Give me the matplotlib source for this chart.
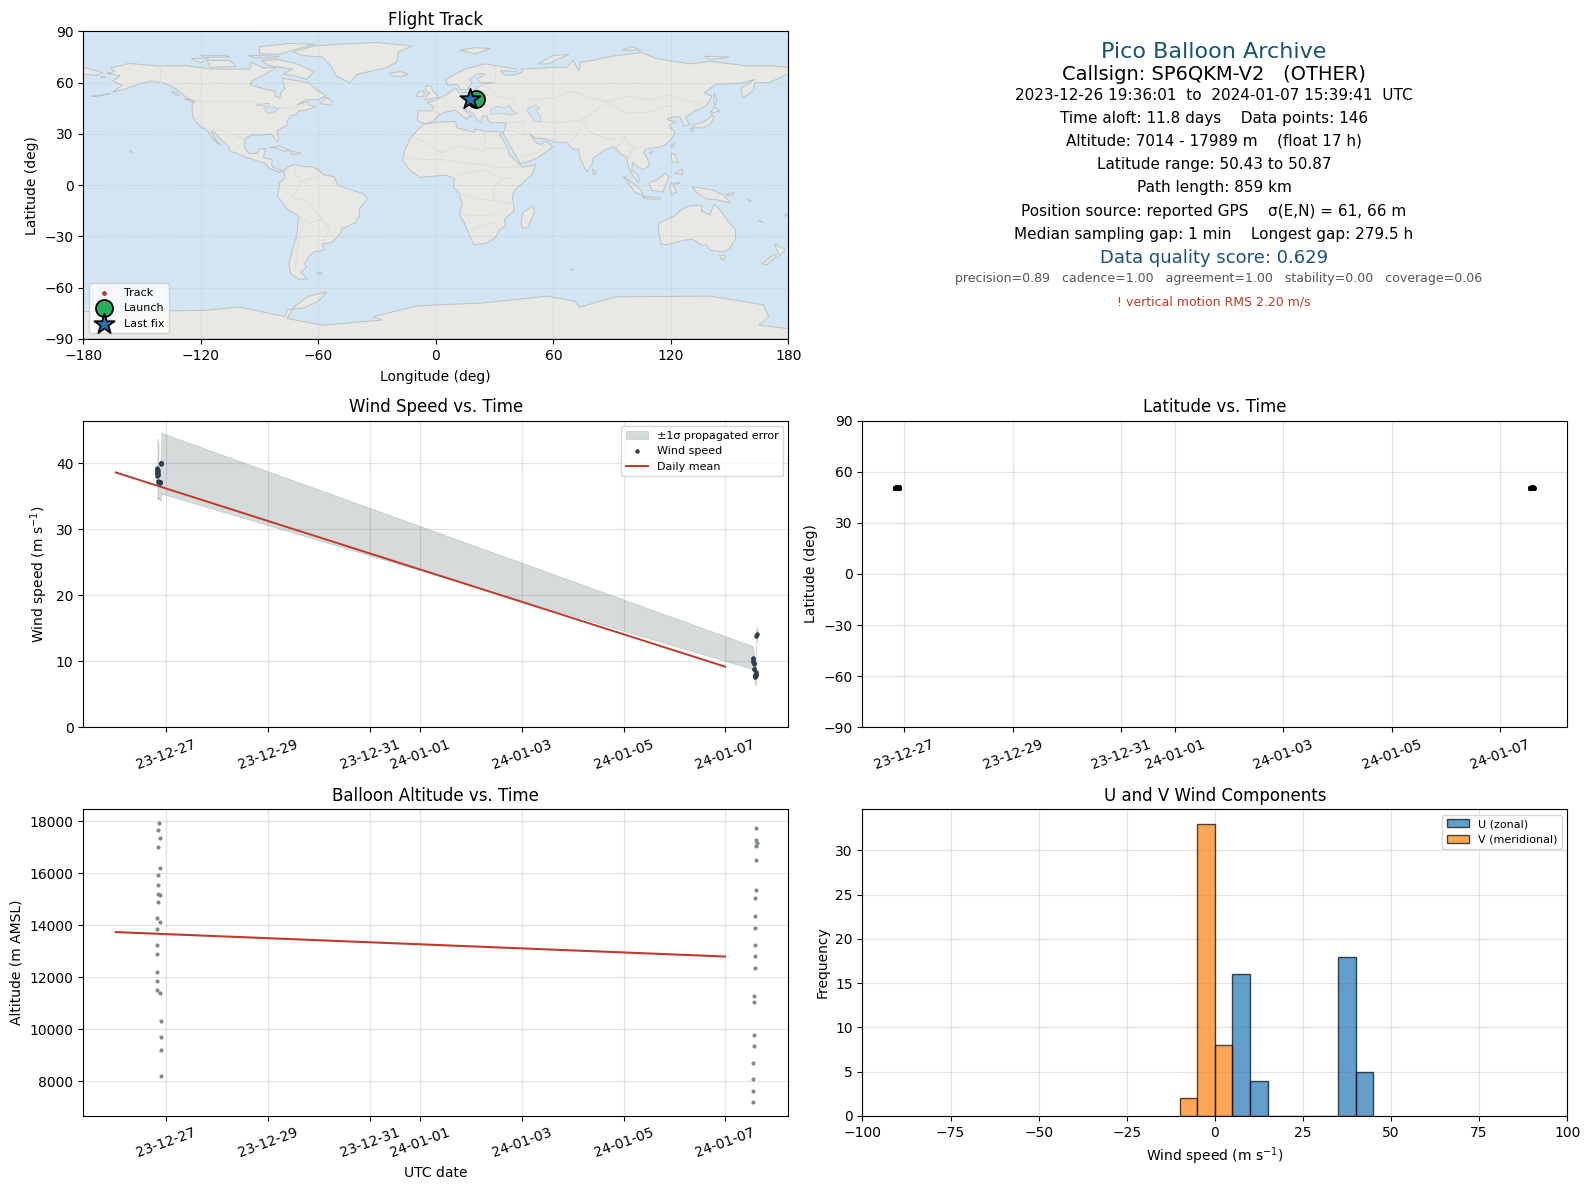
import numpy as np
import pandas as pd
import matplotlib
matplotlib.use("Agg")
import matplotlib.pyplot as plt
import matplotlib.dates as mdates

# ---- coastlines (lon, lat) ----
north_america = [(-168,65.5),(-164,66.5),(-166,68.5),(-156.5,71.3),(-141,69.7),(-128,70),(-115,68),(-108,68),(-95,68),(-94,72),(-88,68.5),(-81.5,69),(-87,65),(-94,61),(-94.5,58.7),(-88,56.5),(-82,55),(-82,52),(-79.5,51.3),(-79,54.5),(-77,56.5),(-78,60),(-78,62.5),(-70,61),(-65,60),(-61,56),(-56,52.5),(-60,50),(-66,50),(-71,47),(-65,49),(-65,47),(-61,46),(-66,44),(-70,43.5),(-71,41.5),(-74,40.5),(-76,37),(-76,35),(-81,32),(-80,27),(-81,25.2),(-82.7,28),(-84,30),(-90,29.2),(-94,29.5),(-97.3,27.5),(-97.8,22),(-95,18.5),(-91,18.7),(-90.5,21),(-87,21.5),(-88,16),(-83.5,15),(-83.7,11),(-80,9),(-77.5,8.5),(-80,7.5),(-85,10),(-87.5,13),(-92,14.5),(-96,16),(-105,20),(-106,23),(-110,27),(-113,31),(-114.8,31.5),(-112,26),(-109.5,23),(-112,25),(-115,29),(-117,32.5),(-120.5,34.5),(-124,40),(-124.5,47),(-123,49),(-128,52),(-131,55),(-135,58),(-140,60),(-146,61),(-152,59),(-158,56.5),(-165,54.5),(-160,58.5),(-165,61),(-161,64)]
south_america = [(-77.5,8.5),(-75,11),(-72,12),(-68,11),(-62,10.5),(-57,6),(-52,5),(-50,0),(-44,-2.5),(-37,-5),(-35,-8),(-39,-14),(-39,-18),(-41,-22),(-48,-25.5),(-48.5,-28),(-53,-33.5),(-58,-34.5),(-57,-38),(-62,-39),(-65,-42),(-67,-46),(-66,-48),(-69,-51),(-65.5,-55),(-70,-55),(-74,-52),(-75,-46),(-73,-37),(-71,-30),(-70,-18),(-76,-14),(-81,-6),(-80,-2),(-80,1),(-77,4)]
africa = [(-6,35.8),(3,37),(10,37.3),(11,33.5),(15,32.3),(20,31),(20,32.8),(25,31.7),(32,31.2),(34.3,31),(32.5,29.5),(34,27),(37,21),(37.5,18),(43,12),(44,10.5),(51,12),(49,6),(41,-2),(39,-6),(40,-15),(35,-20),(35.5,-24),(32.8,-26),(30,-31),(26,-34),(19.5,-34.8),(17,-29),(14.5,-22),(12,-17),(13.5,-11),(12,-5),(9,-1),(9.5,4),(5,5.8),(-4,5),(-8,4.5),(-13,8.5),(-17,14.7),(-16,20),(-13,27.5),(-9.5,32)]
eurasia = [(-5.5,36),(-1,37.5),(0,39.5),(3,42),(6,43),(10,44),(12,42),(16,38.5),(16.5,40),(18.5,40),(13,45.5),(19,42),(21,38),(23,36.5),(24,40.5),(26.5,40.5),(26.5,38),(28,36.7),(36,36.5),(35,32),(34.3,31),(34.8,29.5),(39,21),(43,13),(45,12.8),(52,16),(59.8,22.5),(56.3,25.8),(54,24),(51.5,24.5),(50,26.5),(48,30),(51,27.5),(56.5,27),(61,25.2),(67,25),(70,21),(72.8,21),(73.5,16),(76,10),(77.5,8),(80,13),(80.5,16),(87,21),(91,22.5),(94.5,18),(97.5,16.5),(98.5,10),(100.5,6),(103.5,1.5),(104,3),(103,6),(100,9),(100.5,13.5),(103,11),(106,9),(109,11.5),(108,16),(105.8,19),(108,21.5),(113,22),(117,23.5),(121,28),(122,31),(119,35),(122.5,37),(118,38.5),(121,40),(124.5,39.8),(126,37),(126.5,34.5),(129.5,35.5),(127.5,39.5),(131,42.5),(138,46.5),(141,52),(137,54),(143,59),(155,59.5),(163,62),(156,57),(156.5,51),(162,55),(163,60),(170,60),(180,65),(180,69),(170,70),(160,69.7),(140,72.5),(130,71),(113,74),(105,77.7),(90,75.5),(80,73),(74,72),(73,67),(70,73),(67,69),(60,69),(54,68.5),(44,68),(44,66),(40,64.5),(35,64.5),(33,67),(41,66.5),(41,68),(33,69.5),(25,71),(15,68),(5,62),(6,58.5),(11,59),(12.5,56),(16,56),(18.5,60),(17,62),(22,65.5),(25,65),(21,62),(23,60),(30,60),(24,59),(21,57),(19,54.5),(12,54),(10,57),(8,55),(4,52),(-2,49),(-4.5,48.5),(-1,46),(-2,43.5),(-9,43.5),(-9.5,38),(-8,37)]
chukotka = [(-180,69),(-175,67.5),(-170,66),(-173,64.3),(-180,65)]
australia = [(114,-22),(122,-18),(125,-14.5),(130,-12),(136,-12),(135.5,-15),(140,-17.5),(142,-11),(145.5,-15),(149,-21),(153,-26),(153,-31),(150,-37.5),(146,-39),(140,-38),(138,-35),(135.5,-35),(131,-31.5),(124,-33),(118,-35),(115,-34.5),(113.5,-26)]
antarctica = [(-180,-74),(-119,-73.4),(-100,-71.4),(-77,-77),(-76,-73),(-67.6,-72),(-60,-68),(-55.7,-62.6),(-65,-65),(-72,-71),(-76,-78),(-58,-82),(-27.4,-79),(-32,-77),(-9,-70.6),(24,-69),(57,-65),(71,-68),(73.5,-71.4),(92,-65.4),(140,-65),(167,-70),(170,-77),(165,-82),(180,-84),(180,-90),(-180,-90)]
greenland = [(-73,78),(-68,76),(-58,75),(-53,69),(-51,64),(-44,60),(-40,65),(-26,68.5),(-20,72),(-19,78),(-12,81.5),(-30,83.5),(-50,82.5),(-62,81.5)]
islands = [
    [(-80,73.5),(-71,71),(-62,66.5),(-66,62),(-72,64),(-78,65),(-73,68),(-85,70),(-89,73)],
    [(-117,73),(-105,73),(-102,69.5),(-115,69)],
    [(-90,77),(-80,76.5),(-70,80),(-62,82.5),(-75,83),(-90,81)],
    [(-125,74),(-116,74.5),(-120,71.5)],
    [(-96,76),(-80,75.5),(-82,74.5),(-92,74.5)],
    [(-120,76),(-108,76),(-105,75),(-118,75)],
    [(-59,47.7),(-53,46.8),(-53,49),(-56,51.5)],
    [(-24,65.5),(-18,66.5),(-14,65),(-18,63.5),(-22.5,64)],
    [(-85,22),(-80,23),(-74.5,20.2),(-77.5,19.9),(-82,22)],
    [(-74,19.8),(-68.5,18.7),(-71.5,17.8),(-74,18.3)],
    [(-61,-51.5),(-58,-51.5),(-59,-52.3)],
    [(49.5,-12),(50.3,-16),(47,-25),(44,-25),(43.5,-21),(44.5,-16)],
    [(-5.5,50),(1.5,51.5),(0,53.5),(-2,56),(-2,57.7),(-5,58.5),(-5,55),(-3,54),(-5,52)],
    [(-10,52),(-6,52),(-6,55),(-9,54.5)],
    [(12,79),(20,80.5),(28,80),(20,77)],
    [(52,71),(57,71),(68,76.5),(60,76)],
    [(95,79),(105,79),(100,81)],
    [(137,75.5),(150,75),(140,73.5)],
    [(142,54),(143.5,50),(142.5,46),(142,50)],
    [(131,34),(136,33.5),(140,35.5),(142,39.5),(141,41.5),(139.5,39),(136.5,37),(132,35.5)],
    [(140,42),(145,43.5),(142,45.5)],
    [(130,33.5),(131.5,33),(130.5,31)],
    [(120,23),(122,25),(121,22)],
    [(109,19),(111,20),(109.5,18.2)],
    [(120,18.5),(122,18),(124,13),(120.5,14)],
    [(122,7),(126,9.5),(126,6.5)],
    [(80,9.5),(82,7.5),(80.5,6)],
    [(95.5,5.5),(104,-2),(106,-6),(102,-4.5)],
    [(105.5,-6.5),(114.5,-7.5),(114,-8.7),(106,-7.5)],
    [(109,1.5),(113,3),(117,7),(119,5),(117.5,1),(116,-4),(110,-3)],
    [(119.5,-1),(120,1),(125,1.5),(121,0),(123,-4),(120,-5.5)],
    [(131,-1),(141,-2.7),(147,-6),(150.5,-10.5),(143,-8.5),(138,-8),(133,-4)],
    [(148,-5.7),(152,-4.2),(152,-6)],
    [(144.7,-41),(148,-41),(147,-43.5),(146,-43.5)],
    [(173,-34.5),(178.5,-37.7),(175.5,-41.5),(174.5,-39)],
    [(172.5,-40.7),(174,-41.7),(169,-46.7),(166.5,-46)],
    [(-156,20),(-155,19.5),(-156,19)],
    [(69,-49),(70,-49.5),(69,-49.7)],
    [(-135,55),(-132,54),(-131,52.5),(-133,53)],
    [(-128.5,50.5),(-125,50),(-123.5,48.5),(-125.5,49)],
    [(-176,52),(-170,52.8),(-166,53.8),(-172,52.2)],
    [(-171,63.5),(-168.5,63.2),(-170,63)],
    [(178,-17),(180,-16.5),(179,-18.5)],
    [(166,-21),(167,-22),(164.5,-20.5)],
    [(159,-8),(161,-9.5),(159.5,-9)],
]
inland_water = [
    [(28,41.5),(28,44),(30.5,46),(33,46),(35,45),(37.5,47),(39,44),(41.5,42),(38,41),(33,42)],
    [(47,45),(51,47),(53,45),(51,44),(53,41),(54,37),(50,37.5),(49,40),(47,43)],
    [(-92,47),(-85,48),(-85,46.5),(-88,46.5)],
    [(-88,45),(-85,46),(-80,45),(-82,43),(-86,42)],
]
borders = [
    [(-123,49),(-95,49),(-84,46),(-75,45),(-67,47)],
    [(-141,60),(-141,69.7)],
    [(-117,32.5),(-106,31.7),(-97.5,26)],
    [(-70,-18),(-68,-23),(-70,-33),(-72,-50)],
    [(-58,-34),(-54,-26),(-58,-20),(-65,-10),(-74,-7),(-70,-2),(-70,2),(-60,5)],
    [(-72,12),(-72,7),(-67,1)],
    [(-80,-3),(-75,-1)],
    [(-58,-20),(-65,-22),(-70,-18)],
    [(-13,27.5),(-8,27),(3,19),(12,23),(25,20),(25,31.7)],
    [(25,22),(37,22)],
    [(-16,16),(-5,15),(3,15),(14,13),(24,12),(34,10),(43,11)],
    [(9,4),(15,7),(24,9),(34,4),(41,4)],
    [(12,-5),(22,-8),(30,-9),(40,-11)],
    [(12,-17),(25,-18),(33,-16)],
    [(17,-29),(20,-25),(30,-22),(32,-26)],
    [(30,-9),(29,-2),(34,4)],
    [(19,54.5),(24,50),(22,48),(29,45)],
    [(24,59),(28,56),(32,52),(40,50),(40,47)],
    [(30,60),(30,69)],
    [(47,50),(60,51),(70,55),(80,51),(87,49)],
    [(87,49),(98,52),(110,50),(120,53),(127,50),(135,48),(131,43)],
    [(87,49),(80,42),(74,38),(79,31),(88,27),(97,28),(98,24),(102,22),(108,21.5)],
    [(87,49),(98,42),(110,43),(120,47)],
    [(61,25.2),(61,36),(74,38)],
    [(54,37),(60,37),(67,37),(74,38)],
    [(44,37),(46,30),(48,30)],
    [(36,36.5),(44,37),(48,39)],
    [(36,32),(39,32),(46,29)],
    [(45,12.8),(44,17),(52,19),(56,24)],
    [(67,25),(71,28),(74,33)],
    [(-2,43.5),(3,42)],
    [(4,52),(7,47),(7,44)],
    [(12,54),(14,50),(17,48),(13,45.5)],
    [(92,22),(97,28)],
    [(98,16),(100,20),(102,22)],
]

# ---- flight track ----
track_lon = [20.7, 20.1, 19.4, 18.6, 17.9, 17.3]
track_lat = [50.5, 50.6, 50.8, 50.6, 50.5, 50.5]

# ---- telemetry ----
times_first = ["2023-12-26 19:44"] * 7 + ["2023-12-26 20:13"] * 6 + ["2023-12-26 20:41"] + ["2023-12-26 21:10"] * 5 + ["2023-12-26 21:38"] * 4
times_last = ["2024-01-07 13:16"] * 4 + ["2024-01-07 13:44"] * 4 + ["2024-01-07 14:13"] * 6 + ["2024-01-07 14:41"] * 5 + ["2024-01-07 15:10"]
altitude = [14256, 13833, 13218, 12872, 12180, 11834, 11488,
            17641, 16987, 15910, 15526, 15180, 14872,
            17910,
            17333, 16180, 15141, 14103, 11372,
            10295, 9680, 9180, 8180,
            8680, 8064, 7602, 7180,
            11256, 11026, 9757, 9333,
            15026, 14333, 13872, 13218, 12795, 12333,
            17718, 17256, 17026, 16487, 15333,
            17141]
wind_speed = [38.0, 38.3, 38.6, 38.9, 39.1, 39.3, 38.5,
              38.2, 38.6, 39.0, 38.4, 37.3, 37.2,
              37.1,
              37.1, 37.2, 37.0, 37.1, 37.2,
              40.0, 40.1, 39.9, 40.0,
              10.55, 10.3, 10.05, 9.9,
              9.7, 9.6, 8.9, 8.9,
              7.9, 7.8, 8.0, 7.8, 7.7, 7.8,
              8.4, 8.1, 8.0, 7.9, 13.8,
              14.17]
wind_sigma = [3.4, 3.7, 4.0, 4.3, 4.4, 4.4, 3.9,
              3.6, 4.0, 4.3, 3.8, 2.7, 2.6,
              2.6,
              2.6, 2.6, 2.6, 2.6, 2.6,
              4.6, 4.6, 4.6, 4.6,
              1.75, 1.7, 1.7, 1.7,
              1.6, 1.6, 1.6, 1.6,
              1.3, 1.3, 1.3, 1.3, 1.3, 1.3,
              1.3, 1.3, 1.3, 1.3, 1.0,
              1.0]
latitude = [50.43, 50.48, 50.52, 50.56, 50.60, 50.64, 50.50,
            50.55, 50.62, 50.70, 50.74, 50.58, 50.66,
            50.72,
            50.60, 50.68, 50.75, 50.80, 50.87,
            50.58, 50.64, 50.70, 50.76,
            50.50, 50.55, 50.60, 50.65,
            50.52, 50.58, 50.64, 50.70,
            50.48, 50.55, 50.62, 50.68, 50.74, 50.80,
            50.45, 50.52, 50.60, 50.68, 50.75,
            50.62]

mean_days = ["2023-12-26", "2024-01-07"]
mean_wind = [38.6, 9.2]
mean_alt = [13730, 12790]

# ---- histogram ----
u_edges = [5, 10, 15, 35, 40, 45]
u_counts = [16, 4, 0, 18, 5]
v_edges = [-10, -5, 0, 5]
v_counts = [2, 33, 8]

tick_days = ["2023-12-27", "2023-12-29", "2023-12-31", "2024-01-01", "2024-01-03", "2024-01-05", "2024-01-07"]

times = pd.to_datetime(times_first + times_last)
mean_t = pd.to_datetime(mean_days)
xlim_mean = pd.to_datetime(["2023-12-25 08:40", "2024-01-08 05:55"])
xlim_lat = pd.to_datetime(["2023-12-26 05:25", "2024-01-08 05:50"])
wind_arr = np.array(wind_speed)
sigma_arr = np.array(wind_sigma)

RED = "#c0392b"
NAVY = "#2c3e50"
GREY = "#7f8c8d"
BLUE = "#1a5276"

W, H = 1567.0, 1172.0


def panel(left, right, top, bottom):
    return fig.add_axes([left / W, 1 - bottom / H, (right - left) / W, (bottom - top) / H])


def date_axis(ax, lim):
    ax.set_xlim(lim[0], lim[1])
    ax.set_xticks(pd.to_datetime(tick_days))
    ax.xaxis.set_major_formatter(mdates.DateFormatter("%y-%m-%d"))
    ax.tick_params(axis="x", labelrotation=20)
    ax.grid(True, color="#b0b0b0", alpha=0.35, lw=0.9)
    ax.set_axisbelow(True)


fig = plt.figure(figsize=(15.9, 11.89), dpi=100)

# Flight track
ax = panel(82, 777, 31, 334)
ax.set_facecolor("#d3e5f2")
for poly in [north_america, south_america, africa, eurasia, chukotka, australia, antarctica, greenland] + islands:
    p = np.array(poly)
    ax.fill(p[:, 0], p[:, 1], facecolor="#e8e8e4", edgecolor="#bcc2c5", lw=0.7, zorder=1)
for poly in inland_water:
    p = np.array(poly)
    ax.fill(p[:, 0], p[:, 1], facecolor="#d3e5f2", edgecolor="#bcc2c5", lw=0.5, zorder=1.1)
for line in borders:
    p = np.array(line)
    ax.plot(p[:, 0], p[:, 1], color="#deded9", lw=0.7, zorder=1.2)
ax.scatter(track_lon, track_lat, s=6, color=RED, label="Track", zorder=3)
ax.scatter(track_lon[0], track_lat[0], s=150, color="#27ae60", edgecolor="black", lw=1.3, label="Launch", zorder=4)
ax.scatter(track_lon[-1], track_lat[-1], s=230, marker="*", color="#1f77b4", edgecolor="black", lw=1.3, label="Last fix", zorder=5)
ax.set_xlim(-180, 180)
ax.set_ylim(-90, 90)
ax.set_xticks(np.arange(-180, 181, 60))
ax.set_yticks(np.arange(-90, 91, 30))
ax.grid(True, color="#9aa5ab", alpha=0.3, lw=0.5, ls="--", zorder=2)
ax.set_axisbelow(False)
for s in ax.spines.values():
    s.set_zorder(10)
ax.set_xlabel("Longitude (deg)", labelpad=5)
ax.set_ylabel("Latitude (deg)")
ax.set_title("Flight Track", fontsize=12, pad=5)
ax.legend(loc="lower left", fontsize=8)

# Summary text
cx = 1196.5 / W
fig.text(cx, 1 - 51 / H, "Pico Balloon Archive", ha="center", va="center", fontsize=16, color=BLUE)
fig.text(cx, 1 - 73 / H, "Callsign: SP6QKM-V2   (OTHER)", ha="center", va="center", fontsize=14)
fig.text(cx, 1 - 94 / H, "2023-12-26 19:36:01  to  2024-01-07 15:39:41  UTC", ha="center", va="center", fontsize=11)
fig.text(cx, 1 - 117 / H, "Time aloft: 11.8 days    Data points: 146", ha="center", va="center", fontsize=11)
fig.text(cx, 1 - 139 / H, "Altitude: 7014 - 17989 m    (float 17 h)", ha="center", va="center", fontsize=11)
fig.text(cx, 1 - 162 / H, "Latitude range: 50.43 to 50.87", ha="center", va="center", fontsize=11)
fig.text(cx, 1 - 185 / H, "Path length: 859 km", ha="center", va="center", fontsize=11)
fig.text(cx, 1 - 208 / H, "Position source: reported GPS    σ(E,N) = 61, 66 m", ha="center", va="center", fontsize=11)
fig.text(cx, 1 - 231 / H, "Median sampling gap: 1 min    Longest gap: 279.5 h", ha="center", va="center", fontsize=11)
fig.text(cx, 1 - 254.5 / H, "Data quality score: 0.629", ha="center", va="center", fontsize=13, color=BLUE)
fig.text(cx + 4.5 / W, 1 - 275 / H, "precision=0.89   cadence=1.00   agreement=1.00   stability=0.00   coverage=0.06", ha="center", va="center", fontsize=9, color="#555555")
fig.text(cx, 1 - 297.5 / H, "! vertical motion RMS 2.20 m/s", ha="center", va="center", fontsize=9, color=RED)

# Wind speed
ax = panel(82, 777, 414.5, 717)
ax.fill_between(times, wind_arr - sigma_arr, wind_arr + sigma_arr, color="#2e4a4a", alpha=0.2, lw=0.5, label="±1σ propagated error")
ax.scatter(times, wind_speed, s=5, color=NAVY, label="Wind speed", zorder=3)
ax.plot(mean_t, mean_wind, color=RED, lw=1.4, label="Daily mean", zorder=2.5)
date_axis(ax, xlim_mean)
ax.set_ylim(0, 46.46)
ax.set_ylabel("Wind speed (m s$^{-1}$)")
ax.set_title("Wind Speed vs. Time", fontsize=12)
ax.legend(loc="upper right", fontsize=8)

# Latitude
ax = panel(850, 1544.5, 414.5, 717)
ax.scatter(times, latitude, s=7, color="black", zorder=3)
date_axis(ax, xlim_lat)
ax.set_ylim(-90, 90)
ax.set_yticks(np.arange(-90, 91, 30))
ax.set_ylabel("Latitude (deg)")
ax.set_title("Latitude vs. Time", fontsize=12)

# Altitude
ax = panel(82, 777, 797.5, 1100)
ax.scatter(times, altitude, s=4, color=GREY, zorder=3)
ax.plot(mean_t, mean_alt, color=RED, lw=1.5, zorder=2.5)
date_axis(ax, xlim_mean)
ax.set_ylim(6660, 18460)
ax.set_yticks(np.arange(8000, 18001, 2000))
ax.set_xlabel("UTC date")
ax.set_ylabel("Altitude (m AMSL)")
ax.set_title("Balloon Altitude vs. Time", fontsize=12)

# U and V histogram
ax = panel(850, 1544.5, 797.5, 1100)
ax.hist(np.array(u_edges[:-1]) + 2.5, bins=u_edges, weights=u_counts, color="#1f77b4", alpha=0.7, edgecolor="black", label="U (zonal)", zorder=3)
ax.hist(np.array(v_edges[:-1]) + 2.5, bins=v_edges, weights=v_counts, color="#ff7f0e", alpha=0.7, edgecolor="black", label="V (meridional)", zorder=3)
ax.set_xlim(-100, 100)
ax.set_ylim(0, 34.65)
ax.grid(True, color="#b0b0b0", alpha=0.35, lw=0.9)
ax.set_axisbelow(True)
ax.set_xlabel("Wind speed (m s$^{-1}$)")
ax.set_ylabel("Frequency")
ax.set_title("U and V Wind Components", fontsize=12)
ax.legend(loc="upper right", fontsize=8)

plt.savefig("out.png", dpi=100)
